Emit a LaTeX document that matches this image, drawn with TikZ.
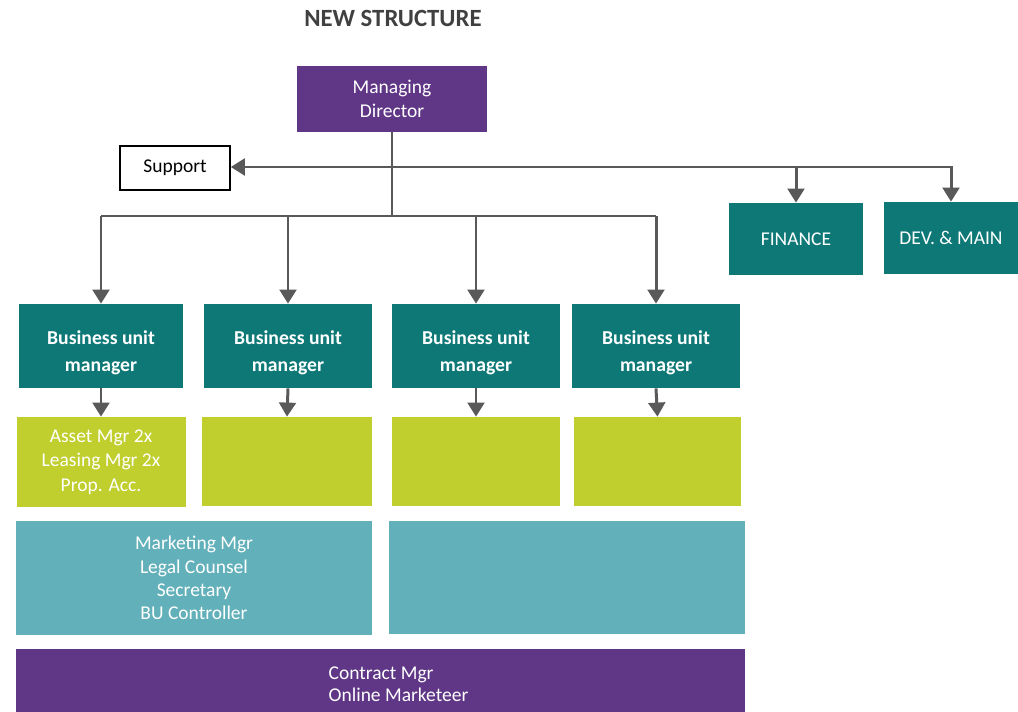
\documentclass[tikz,border=0pt]{standalone}
\usepackage{fontspec}
\setmainfont{Carlito}
\usetikzlibrary{positioning,calc,arrows.meta}

\definecolor{mdpurple}{HTML}{603786}
\definecolor{buteal}{HTML}{0E7877}
\definecolor{teamgreen}{HTML}{C0CE2E}
\definecolor{staffteal}{HTML}{62B0BA}
\definecolor{linkgray}{HTML}{595959}
\definecolor{titlegray}{HTML}{404040}

\newcommand{\bulabel}{\rule{0pt}{0.54cm}Business unit\\manager}

\tikzset{
  box/.style 2 args={rectangle, inner sep=0pt, align=center, text=white,
    minimum width=#1*0.02cm, minimum height=#2*0.02cm},
  mdbox/.style={fill=mdpurple, font=\fontsize{11.1}{13.6}\selectfont},
  bubox/.style={fill=buteal, font=\bfseries\fontsize{11.2}{15.3}\selectfont},
  deptbox/.style={fill=buteal, font=\fontsize{11.1}{13.6}\selectfont},
  teambox/.style={fill=teamgreen, font=\fontsize{11.1}{13.9}\selectfont},
  staffbox/.style={fill=staffteal, font=\fontsize{11.1}{13.2}\selectfont},
  link/.style={draw=linkgray, line width=1.7pt},
  arrow/.style={link, -{Triangle[width=9.5pt,length=8pt]}},
}

\begin{document}
\begin{tikzpicture}[x=0.02cm, y=-0.02cm]
  \useasboundingbox (0,0) rectangle (1018,712);

  % Title
  \node[font=\bfseries\fontsize{14.1}{16}\selectfont, text=titlegray] (title) at (393,18) {NEW STRUCTURE};

  % Top of the tree
  \node[box={190}{66}, mdbox] (md) at (392,99) {Managing\\Director};
  \node[box={110}{44}, draw=black, line width=0.9pt, text=black,
        font=\fontsize{11.1}{13}\selectfont] (sup) at (175,168) {Support};
  \node[box={134}{72}, deptbox] (fin) at (796,239) {FINANCE};
  \node[box={135}{72}, deptbox] (dev) at (951,238) {DEV. \& MAIN};

  % Business units
  \node[box={164}{84}, bubox] (bu1) at (101,346) {\bulabel};
  \node[box={168}{84}, bubox] (bu2) at (288,346) {\bulabel};
  \node[box={168}{84}, bubox] (bu3) at (476,346) {\bulabel};
  \node[box={168}{84}, bubox] (bu4) at (656,346) {\bulabel};

  % Teams below each unit
  \node[box={169}{90}, teambox] (gr1) at (101,462) {Asset Mgr 2x\\Leasing Mgr 2x\\Prop. Acc.};
  \node[box={170}{89}, teambox] (gr2) at (287,461.5) {};
  \node[box={168}{89}, teambox] (gr3) at (476,461.5) {};
  \node[box={167}{89}, teambox] (gr4) at (657.5,461.5) {};

  % Shared staff
  \node[box={356}{114}, staffbox] (st1) at (194,578) {Marketing Mgr\\Legal Counsel\\Secretary\\BU Controller};
  \node[box={356}{113}, staffbox] (st2) at (567,577.5) {};
  \node[box={729}{63}, mdbox, align=left, font=\fontsize{11.1}{12.5}\selectfont] (shared) at (380.5,680.5)
    {\rule{0pt}{0.4cm}\hspace*{0.72cm}Contract Mgr\\\hspace*{0.72cm}Online Marketeer};

  % Connectors
  \coordinate (hub) at (392,167);
  \coordinate (split) at (392,216);
  \draw[link] (md.south) -- (split);
  \draw[arrow] (hub) -- (sup.east |- hub);
  \draw[arrow] (hub) -| (dev.north);
  \draw[arrow] (fin.north |- hub) -- (fin.north);
  \draw[link] (bu1.north |- split) -- (bu4.north |- split);
  \foreach \i in {1,...,4} {
    \draw[arrow] (bu\i.north |- split) -- (bu\i.north);
    \draw[arrow] (bu\i.south) -- (gr\i.north);
  }
\end{tikzpicture}
\end{document}
